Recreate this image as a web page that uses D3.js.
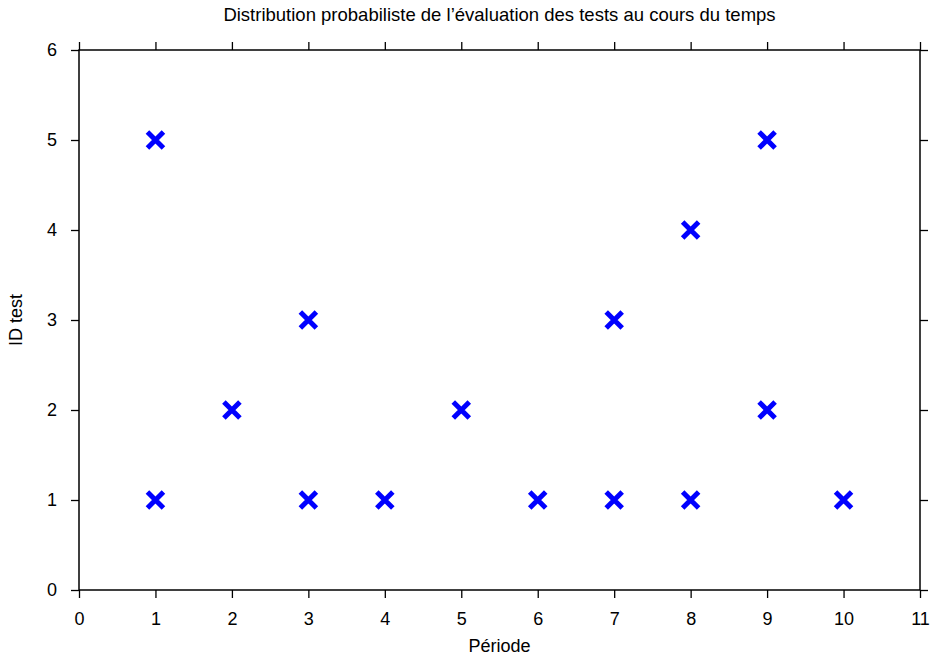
<!DOCTYPE html>
<html>
<head>
<meta charset="utf-8">
<script src="https://cdn.jsdelivr.net/npm/d3@7"></script>
<style>
  body { margin: 0; background: #fff; }
  svg text { font-family: "Liberation Sans", Arial, sans-serif; fill: #000; }
</style>
</head>
<body>
<svg id="chart" width="931" height="657"></svg>
<script>
// data
const periods = [1, 1, 2, 3, 3, 4, 5, 6, 7, 7, 8, 8, 9, 9, 10];
const testIds = [5, 1, 2, 3, 1, 1, 2, 1, 3, 1, 4, 1, 5, 2, 1];
const xTicks = [0, 1, 2, 3, 4, 5, 6, 7, 8, 9, 10, 11];
const yTicks = [0, 1, 2, 3, 4, 5, 6];

const title = 'Distribution probabiliste de l\u2019évaluation des tests au cours du temps';
const xLabel = 'Période';
const yLabel = 'ID test';

const margin = { left: 79, right: 11, top: 50, bottom: 67 };
const width = 931, height = 657;

const svg = d3.select('#chart');

const x = d3.scaleLinear().domain([0, 11]).range([margin.left, width - margin.right]);
const y = d3.scaleLinear().domain([0, 6]).range([height - margin.bottom, margin.top]);

const TICK = 8;

// mirrored tick marks on all four sides, pointing outward
svg.append('g')
    .attr('transform', 'translate(0,' + y(0) + ')')
    .call(d3.axisBottom(x).tickValues(xTicks).tickSize(TICK).tickPadding(14).tickFormat(d3.format('d')))
    .call(g => g.select('.domain').remove());

svg.append('g')
    .attr('transform', 'translate(0,' + y(6) + ')')
    .call(d3.axisTop(x).tickValues(xTicks).tickSize(TICK).tickFormat(''))
    .call(g => g.select('.domain').remove());

svg.append('g')
    .attr('transform', 'translate(' + x(0) + ',0)')
    .call(d3.axisLeft(y).tickValues(yTicks).tickSize(TICK).tickPadding(14).tickFormat(d3.format('d')))
    .call(g => g.select('.domain').remove());

svg.append('g')
    .attr('transform', 'translate(' + x(11) + ',0)')
    .call(d3.axisRight(y).tickValues(yTicks).tickSize(TICK).tickFormat(''))
    .call(g => g.select('.domain').remove());

svg.selectAll('.tick line').attr('stroke', '#000').attr('stroke-width', 1.3);
svg.selectAll('.tick text').style('font-size', '18px');

// frame
svg.append('rect')
    .attr('x', x(0))
    .attr('y', y(6))
    .attr('width', x(11) - x(0))
    .attr('height', y(0) - y(6))
    .attr('fill', 'none')
    .attr('stroke', '#000')
    .attr('stroke-width', 1.5);

// markers
const half = 8;
const pts = periods.map((p, i) => ({ p: p, id: testIds[i] }));
const marks = svg.append('g').selectAll('g')
    .data(pts)
    .enter().append('g')
        .attr('transform', d => 'translate(' + x(d.p) + ',' + y(d.id) + ')');

marks.append('path')
    .attr('d', 'M' + (-half) + ',' + (-half) + 'L' + half + ',' + half +
               'M' + (-half) + ',' + half + 'L' + half + ',' + (-half))
    .attr('stroke', '#0000ff')
    .attr('stroke-width', 5)
    .attr('fill', 'none');

// labels
svg.append('text')
    .attr('x', (x(0) + x(11)) / 2)
    .attr('y', 21)
    .attr('text-anchor', 'middle')
    .style('font-size', '18.5px')
    .text(title);

svg.append('text')
    .attr('x', (x(0) + x(11)) / 2)
    .attr('y', 652)
    .attr('text-anchor', 'middle')
    .style('font-size', '18px')
    .text(xLabel);

svg.append('text')
    .attr('transform', 'translate(22,' + (y(3)) + ') rotate(-90)')
    .attr('text-anchor', 'middle')
    .style('font-size', '18px')
    .text(yLabel);
</script>
</body>
</html>
